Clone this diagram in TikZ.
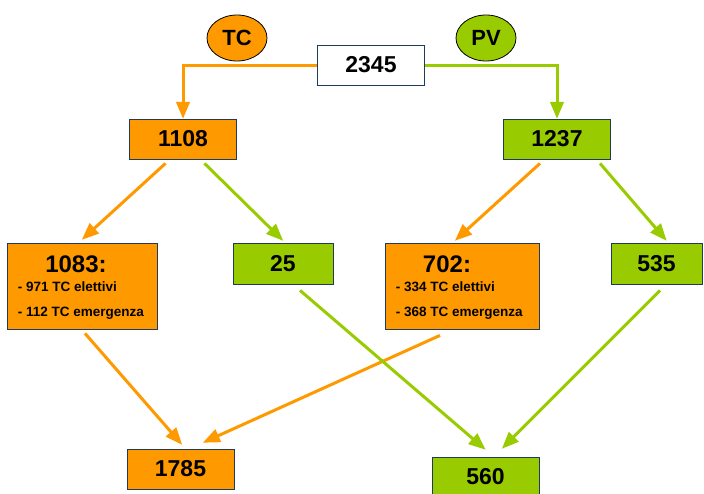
\documentclass[tikz,border=0pt]{standalone}
\usepackage{fontspec}
\setmainfont{Liberation Sans}
\usetikzlibrary{arrows,shapes.geometric}
\definecolor{tcorange}{HTML}{FF9900}
\definecolor{pvgreen}{HTML}{99CC00}
\definecolor{boxline}{HTML}{1F3A60}

\begin{document}
\begin{tikzpicture}[x=1pt,y=-1pt,
	numbox/.style={draw=boxline,line width=0.8pt,minimum width=107pt,minimum height=40pt,inner sep=0pt,font=\fontsize{23}{27}\selectfont\bfseries},
	listbox/.style={numbox,minimum width=150pt,minimum height=86pt},
	tag/.style={ellipse,draw=black,line width=0.8pt,minimum width=60pt,minimum height=46pt,inner sep=0pt,font=\fontsize{22}{26}\selectfont\bfseries},
	bigtxt/.style={inner sep=0pt,font=\fontsize{24}{28}\selectfont\bfseries},
	smalltxt/.style={inner sep=0pt,anchor=base west,font=\fontsize{13.5}{16}\selectfont\bfseries},
	orangearrow/.style={draw=tcorange,line width=3pt,-triangle 45},
	greenarrow/.style={draw=pvgreen,line width=3pt,-triangle 45}]
	\useasboundingbox (0,0) rectangle (704,493);
	% top
	\node[numbox,fill=white] (n2345) at (371,65) {2345};
	\node[tag,fill=tcorange] (tc) at (237,38) {TC};
	\node[tag,fill=pvgreen] (pv) at (486,38) {PV};
	\node[numbox,fill=tcorange] (n1108) at (183,139) {1108};
	\node[numbox,fill=pvgreen] (n1237) at (557,139) {1237};
	% middle
	\node[listbox,fill=tcorange] (n1083) at (82,286) {};
	\node[bigtxt] (t1083) at ([xshift=-6pt,yshift=-22pt]n1083.north) {1083:};
	\node[smalltxt] (a1083) at ([xshift=11pt,yshift=-49pt]n1083.north west) {- 971 TC elettivi};
	\node[smalltxt] (b1083) at ([xshift=11pt,yshift=-74pt]n1083.north west) {- 112 TC emergenza};
	\node[numbox,fill=pvgreen,minimum width=100pt,minimum height=41pt] (n25) at (283,263.5) {25};
	\node[listbox,fill=tcorange,minimum width=154pt] (n702) at (462,286) {};
	\node[bigtxt] (t702) at ([xshift=-15pt,yshift=-22pt]n702.north) {702:};
	\node[smalltxt] (a702) at ([xshift=11pt,yshift=-49pt]n702.north west) {- 334 TC elettivi};
	\node[smalltxt] (b702) at ([xshift=11pt,yshift=-74pt]n702.north west) {- 368 TC emergenza};
	\node[numbox,fill=pvgreen,minimum width=91pt,minimum height=41pt] (n535) at (656.5,263.5) {535};
	% bottom
	\node[numbox,fill=tcorange] (n1785) at (180.5,469) {1785};
	\node[numbox,fill=pvgreen] (n560) at (485.5,477) {560};
	% connectors
	\draw[orangearrow] (n2345.west) -| (n1108.north);
	\draw[greenarrow] (n2345.east) -| (n1237.north);
	\draw[orangearrow] ([xshift=-17.5pt,yshift=-4pt]n1108.south) -- ([yshift=3pt]n1083.north);
	\draw[greenarrow] ([xshift=21.5pt,yshift=-4pt]n1108.south) -- ([yshift=2pt]n25.north);
	\draw[orangearrow] ([xshift=-17pt,yshift=-4pt]n1237.south) -- ([xshift=-7pt,yshift=2pt]n702.north);
	\draw[greenarrow] ([xshift=43pt,yshift=-4pt]n1237.south) -- ([xshift=10pt,yshift=2pt]n535.north);
	\draw[orangearrow] ([xshift=3pt,yshift=-4pt]n1083.south) -- ([xshift=1.5pt,yshift=4pt]n1785.north);
	\draw[orangearrow] ([xshift=-22pt,yshift=-6pt]n702.south) -- ([xshift=22.5pt,yshift=6pt]n1785.north);
	\draw[greenarrow] ([xshift=17pt,yshift=-6pt]n25.south) -- ([yshift=7pt]n560.north);
	\draw[greenarrow] ([xshift=3.5pt,yshift=-6pt]n535.south) -- ([xshift=16.5pt,yshift=8pt]n560.north);
\end{tikzpicture}
\end{document}
